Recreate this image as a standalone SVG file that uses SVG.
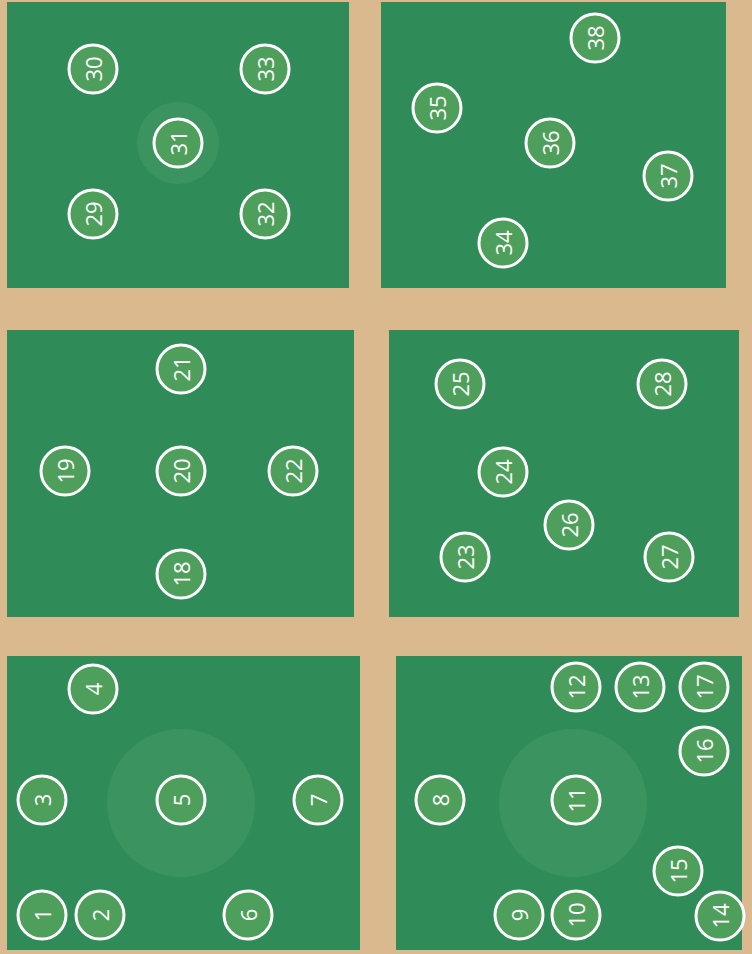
<svg xmlns="http://www.w3.org/2000/svg" width="752" height="954" viewBox="0 0 752 954">
<style>
.bg{fill:#dbb98f}
.board{fill:#2f8c59}
.halo{fill:#3b945f}
.spot circle{fill:#4f9f5c;stroke:#ffffff;stroke-width:3}
.spot text{font-family:"Open Sans","DejaVu Sans",sans-serif;font-size:22px;fill:#ffffff;text-anchor:middle;dominant-baseline:central}
</style>
<rect class="bg" x="0" y="0" width="752" height="954"/>
<g id="board-top-left">
<rect class="board" x="7" y="2" width="342" height="286"/>
<circle class="halo" cx="178" cy="143" r="41"/>
</g>
<g id="board-top-right"><rect class="board" x="381" y="2" width="345" height="286"/></g>
<g id="board-mid-left"><rect class="board" x="7" y="330" width="347" height="287"/></g>
<g id="board-mid-right"><rect class="board" x="389" y="330" width="350" height="287"/></g>
<g id="board-bottom-left">
<rect class="board" x="7" y="656" width="353" height="294"/>
<circle class="halo" cx="181" cy="803" r="74"/>
</g>
<g id="board-bottom-right">
<rect class="board" x="396" y="656" width="346" height="294"/>
<circle class="halo" cx="573" cy="803" r="74"/>
</g>
<g id="connectors"></g>
<g id="n30" class="spot"><circle cx="93" cy="69" r="24"/><text x="93" y="69" transform="rotate(-90 93 69)">30</text></g>
<g id="n33" class="spot"><circle cx="265" cy="69" r="24"/><text x="265" y="69" transform="rotate(-90 265 69)">33</text></g>
<g id="n31" class="spot"><circle cx="178" cy="143" r="24"/><text x="178" y="143" transform="rotate(-90 178 143)">31</text></g>
<g id="n29" class="spot"><circle cx="93" cy="214" r="24"/><text x="93" y="214" transform="rotate(-90 93 214)">29</text></g>
<g id="n32" class="spot"><circle cx="265" cy="214" r="24"/><text x="265" y="214" transform="rotate(-90 265 214)">32</text></g>
<g id="n38" class="spot"><circle cx="595" cy="38" r="24"/><text x="595" y="38" transform="rotate(-90 595 38)">38</text></g>
<g id="n35" class="spot"><circle cx="437" cy="108" r="24"/><text x="437" y="108" transform="rotate(-90 437 108)">35</text></g>
<g id="n36" class="spot"><circle cx="550" cy="143" r="24"/><text x="550" y="143" transform="rotate(-90 550 143)">36</text></g>
<g id="n37" class="spot"><circle cx="668" cy="176" r="24"/><text x="668" y="176" transform="rotate(-90 668 176)">37</text></g>
<g id="n34" class="spot"><circle cx="503" cy="243" r="24"/><text x="503" y="243" transform="rotate(-90 503 243)">34</text></g>
<g id="n21" class="spot"><circle cx="181" cy="369" r="24"/><text x="181" y="369" transform="rotate(-90 181 369)">21</text></g>
<g id="n19" class="spot"><circle cx="65" cy="471" r="24"/><text x="65" y="471" transform="rotate(-90 65 471)">19</text></g>
<g id="n20" class="spot"><circle cx="181" cy="471" r="24"/><text x="181" y="471" transform="rotate(-90 181 471)">20</text></g>
<g id="n22" class="spot"><circle cx="293" cy="471" r="24"/><text x="293" y="471" transform="rotate(-90 293 471)">22</text></g>
<g id="n18" class="spot"><circle cx="181" cy="574" r="24"/><text x="181" y="574" transform="rotate(-90 181 574)">18</text></g>
<g id="n25" class="spot"><circle cx="460" cy="384" r="24"/><text x="460" y="384" transform="rotate(-90 460 384)">25</text></g>
<g id="n28" class="spot"><circle cx="662" cy="384" r="24"/><text x="662" y="384" transform="rotate(-90 662 384)">28</text></g>
<g id="n24" class="spot"><circle cx="503" cy="472" r="24"/><text x="503" y="472" transform="rotate(-90 503 472)">24</text></g>
<g id="n26" class="spot"><circle cx="569" cy="525" r="24"/><text x="569" y="525" transform="rotate(-90 569 525)">26</text></g>
<g id="n23" class="spot"><circle cx="465" cy="557" r="24"/><text x="465" y="557" transform="rotate(-90 465 557)">23</text></g>
<g id="n27" class="spot"><circle cx="669" cy="557" r="24"/><text x="669" y="557" transform="rotate(-90 669 557)">27</text></g>
<g id="n4" class="spot"><circle cx="93" cy="689" r="24"/><text x="93" y="689" transform="rotate(-90 93 689)">4</text></g>
<g id="n3" class="spot"><circle cx="42" cy="800" r="24"/><text x="42" y="800" transform="rotate(-90 42 800)">3</text></g>
<g id="n5" class="spot"><circle cx="181" cy="800" r="24"/><text x="181" y="800" transform="rotate(-90 181 800)">5</text></g>
<g id="n7" class="spot"><circle cx="318" cy="800" r="24"/><text x="318" y="800" transform="rotate(-90 318 800)">7</text></g>
<g id="n1" class="spot"><circle cx="42" cy="915" r="24"/><text x="42" y="915" transform="rotate(-90 42 915)">1</text></g>
<g id="n2" class="spot"><circle cx="100" cy="915" r="24"/><text x="100" y="915" transform="rotate(-90 100 915)">2</text></g>
<g id="n6" class="spot"><circle cx="248" cy="915" r="24"/><text x="248" y="915" transform="rotate(-90 248 915)">6</text></g>
<g id="n12" class="spot"><circle cx="576" cy="687" r="24"/><text x="576" y="687" transform="rotate(-90 576 687)">12</text></g>
<g id="n13" class="spot"><circle cx="640" cy="687" r="24"/><text x="640" y="687" transform="rotate(-90 640 687)">13</text></g>
<g id="n17" class="spot"><circle cx="704" cy="687" r="24"/><text x="704" y="687" transform="rotate(-90 704 687)">17</text></g>
<g id="n16" class="spot"><circle cx="704" cy="751" r="24"/><text x="704" y="751" transform="rotate(-90 704 751)">16</text></g>
<g id="n8" class="spot"><circle cx="440" cy="800" r="24"/><text x="440" y="800" transform="rotate(-90 440 800)">8</text></g>
<g id="n11" class="spot"><circle cx="576" cy="800" r="24"/><text x="576" y="800" transform="rotate(-90 576 800)">11</text></g>
<g id="n15" class="spot"><circle cx="678" cy="871" r="24"/><text x="678" y="871" transform="rotate(-90 678 871)">15</text></g>
<g id="n9" class="spot"><circle cx="519" cy="915" r="24"/><text x="519" y="915" transform="rotate(-90 519 915)">9</text></g>
<g id="n10" class="spot"><circle cx="576" cy="915" r="24"/><text x="576" y="915" transform="rotate(-90 576 915)">10</text></g>
<g id="n14" class="spot"><circle cx="720" cy="916" r="24"/><text x="720" y="916" transform="rotate(-90 720 916)">14</text></g>
</svg>
